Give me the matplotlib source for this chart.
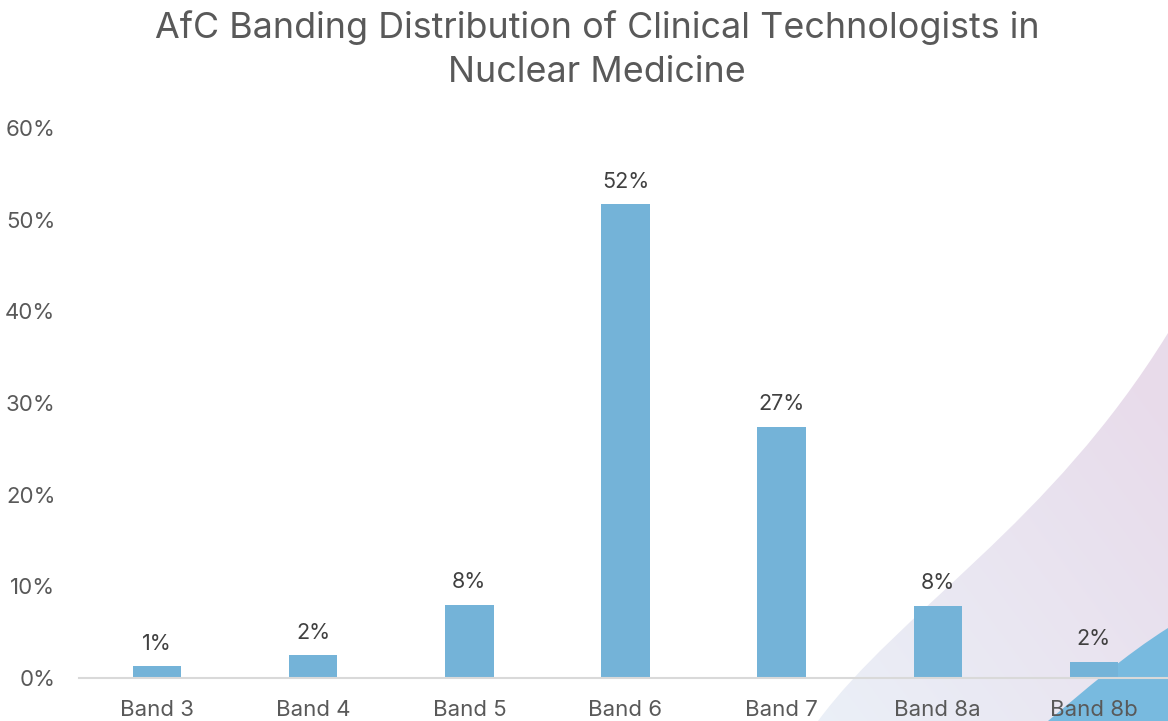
import numpy as np
import matplotlib
matplotlib.use("Agg")
import matplotlib.pyplot as plt
from matplotlib.path import Path
from matplotlib.patches import PathPatch
from matplotlib.ticker import FuncFormatter

bands = ["Band 3", "Band 4", "Band 5", "Band 6", "Band 7", "Band 8a", "Band 8b"]
shares = [1.3, 2.5, 8.0, 51.7, 27.4, 7.9, 1.8]
labels = ["1%", "2%", "8%", "52%", "27%", "8%", "2%"]
yticks = [0, 10, 20, 30, 40, 50, 60]

BAR_COLOR = "#74B3D8"
TEXT_GREY = "#595959"

plt.rcParams["font.family"] = ["Inter", "DejaVu Sans"]

W, H = 1168, 721
fig = plt.figure(figsize=(W / 100, H / 100), dpi=100)

# decorative background swoosh, in figure pixel coords
bg = fig.add_axes([0, 0, 1, 1], zorder=0)
bg.set_xlim(0, W)
bg.set_ylim(H, 0)
bg.axis("off")

C4 = Path.CURVE4
lav = Path([(818, 721), (900, 610), (1050, 525), (1168, 333), (1168, 721), (818, 721)],
           [Path.MOVETO, C4, C4, C4, Path.LINETO, Path.CLOSEPOLY])
grad = np.linspace(0, 1, 256)
gx, gy = np.meshgrid(grad, grad)
t = np.clip(0.6 * gx + 0.5 * (1 - gy), 0, 1)
c0 = np.array([0.92, 0.94, 0.97])
c1 = np.array([0.91, 0.86, 0.92])
img = c0[None, None, :] * (1 - t[..., None]) + c1[None, None, :] * t[..., None]
im = bg.imshow(img, extent=(818, W, H, 333), aspect="auto", zorder=0)
patch = PathPatch(lav, facecolor="none", edgecolor="none")
bg.add_patch(patch)
im.set_clip_path(patch)

blue = Path([(1048, 721), (1085, 690), (1125, 655), (1168, 628), (1168, 721), (1048, 721)],
            [Path.MOVETO, C4, C4, C4, Path.LINETO, Path.CLOSEPOLY])
bg.add_patch(PathPatch(blue, facecolor="#78BADF", edgecolor="none", zorder=1))

# main chart
ax = fig.add_axes([79 / W, (H - 678) / H, (W - 79) / W, 550 / H], zorder=1)
ax.patch.set_alpha(0)

x = np.arange(len(bands))
bars = ax.bar(x, shares, width=0.31, color=BAR_COLOR, zorder=2)

for rect, lab in zip(bars, labels):
    ax.annotate(lab, (rect.get_x() + rect.get_width() / 2, rect.get_height()),
                xytext=(0, 9), textcoords="offset points",
                ha="center", va="bottom", fontsize=15.5, color="#404040")

ax.set_xlim(-0.5, 6.475)
ax.set_ylim(0, 60)
ax.set_yticks(yticks)
ax.yaxis.set_major_formatter(FuncFormatter(lambda v, p: f"{v:.0f}%"))
ax.set_xticks(x)
ax.set_xticklabels(bands)
ax.tick_params(axis="both", length=0, labelsize=16, colors=TEXT_GREY)
ax.tick_params(axis="x", pad=16)
ax.tick_params(axis="y", pad=17)

for side in ["top", "right", "left"]:
    ax.spines[side].set_visible(False)
ax.spines["bottom"].set_color("#D9D9D9")
ax.spines["bottom"].set_linewidth(1.5)

fig.text(597 / W, 1 - 50 / H,
         "AfC Banding Distribution of Clinical Technologists in\nNuclear Medicine",
         ha="center", va="center", fontsize=25.8, color=TEXT_GREY, linespacing=1.42)

fig.savefig("out.png", dpi=100)
